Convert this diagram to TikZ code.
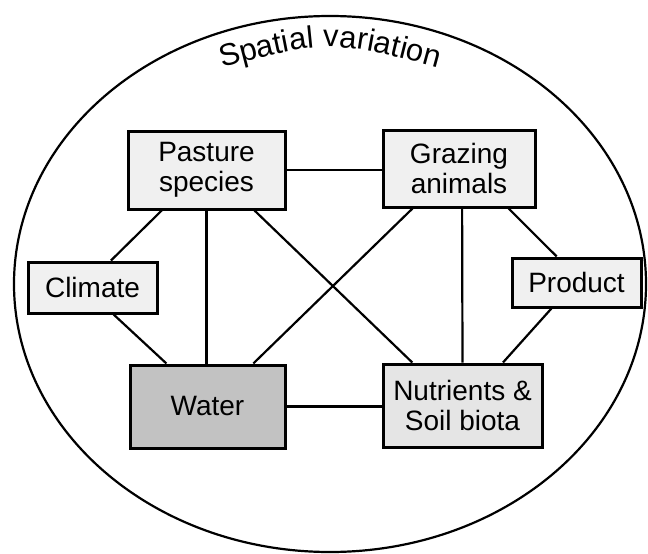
\documentclass[tikz,border=0pt]{standalone}
\usepackage{fontspec}
\setmainfont{Liberation Sans}
\usetikzlibrary{calc,decorations.text}
\begin{document}
\begin{tikzpicture}[x=1pt,y=-1pt,
  boxnode/.style={draw=black,line width=3pt,fill=black!6,inner sep=0pt,align=center,
    font=\fontsize{28}{30}\selectfont},
  link/.style={draw=black,line width=2.2pt}]
\useasboundingbox (0,0) rectangle (648,554);
\draw[line width=2.2pt] (330,284) ellipse [x radius=316pt, y radius=268pt];
\path[postaction={decorate},decoration={text along path,text align=center,
  text={|\fontsize{31}{36}\selectfont|Spatial variation}}]
  (200,74) .. controls (330,38) .. (460,74);
\node[boxnode,minimum width=157pt,minimum height=78pt] (p) at (206.5,170) {Pasture\\species};
\node[boxnode,minimum width=152pt,minimum height=77pt] (g) at (459,168.5) {Grazing\\animals};
\node[boxnode,minimum width=129pt,minimum height=51pt] (c) at (92.5,287.5) {Climate};
\node[boxnode,minimum width=129pt,minimum height=49pt] (r) at (576.5,282.5) {Product};
\node[boxnode,fill=black!24,minimum width=155pt,minimum height=83pt] (w) at (207.5,406.5) {Water};
\node[boxnode,fill=black!10,minimum width=159pt,minimum height=83pt] (n) at (462.5,405.5) {Nutrients \&\\Soil biota};
\draw[link] (p.east) -- (p.east -| g.west);
\draw[link] (w.east) -- (w.east -| n.west);
\draw[link] (p.south) -- (p.south |- w.north);
\draw[link] ($(g.south west)!0.52!(g.south east)$) -- ($(n.north west)!0.5!(n.north east)$);
\draw[link] ($(p.south west)!0.22!(p.south east)$) -- ($(c.north west)!0.64!(c.north east)$);
\draw[link] ($(c.south west)!0.66!(c.south east)$) -- ($(w.north west)!0.24!(w.north east)$);
\draw[link] ($(p.south west)!0.80!(p.south east)$) -- ($(n.north west)!0.19!(n.north east)$);
\draw[link] ($(g.south west)!0.20!(g.south east)$) -- ($(w.north west)!0.79!(w.north east)$);
\draw[link] ($(g.south west)!0.82!(g.south east)$) -- ($(r.north west)!0.35!(r.north east)$);
\draw[link] ($(r.south west)!0.31!(r.south east)$) -- ($(n.north west)!0.75!(n.north east)$);
\end{tikzpicture}
\end{document}
